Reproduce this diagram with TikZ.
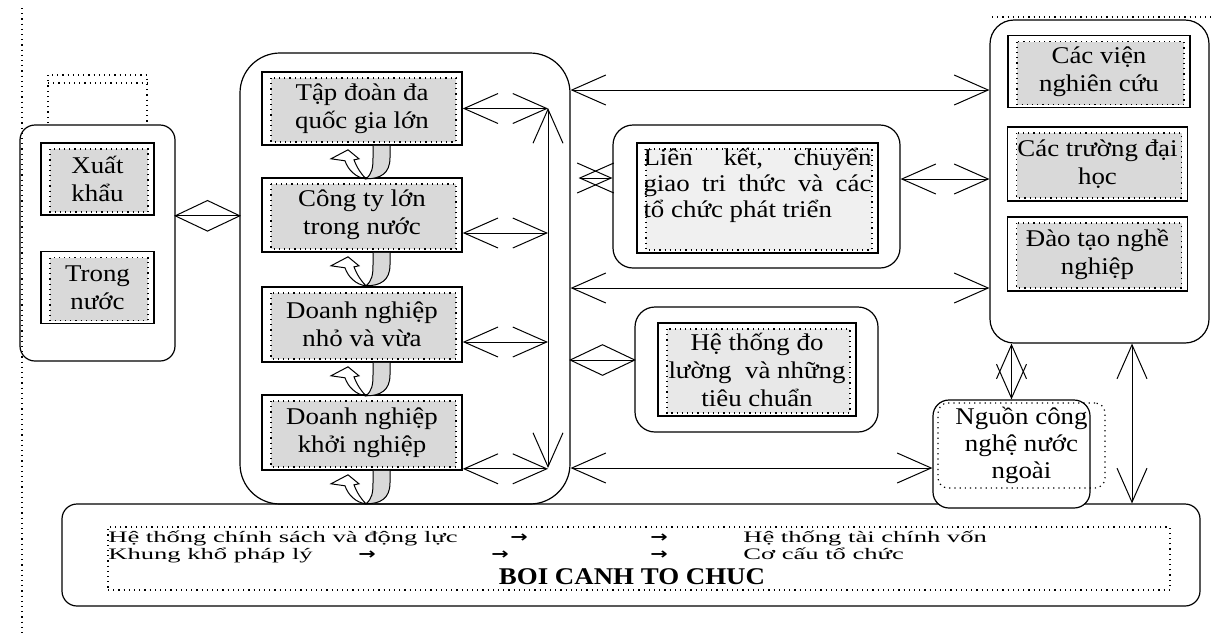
\documentclass[tikz,border=0pt]{standalone}
\usepackage{fontspec}
\setmainfont{Liberation Serif}[FakeStretch=1.12]
\newfontfamily\flatfont{Liberation Serif}[FakeStretch=1.66]
\newfontfamily\arrowfont{DejaVu Sans}[FakeStretch=1.3]
\usetikzlibrary{arrows.meta,shapes.geometric}

\definecolor{boxgray}{gray}{0.85}
\definecolor{palegray}{gray}{0.94}
\definecolor{softgray}{gray}{0.91}

\tikzset{
  orgbox/.style={draw, line width=0.8pt, fill=white, inner sep=0pt, align=center,
    font=\fontsize{12}{14}\selectfont,
    path picture={\draw[dotted, line width=0.6pt, fill=#1]
      ([shift={(4.5pt,-3pt)}]path picture bounding box.north west) rectangle
      ([shift={(-3pt,1.5pt)}]path picture bounding box.south east);}},
  orgbox/.default=boxgray,
  roundframe/.style={draw, line width=0.6pt, rounded corners=#1},
  twoway/.style={line width=0.5pt,
    {Straight Barb[length=17pt,width=15pt]}-{Straight Barb[length=17pt,width=15pt]}},
  diamondmark/.style={draw, diamond, line width=0.5pt, inner sep=0pt,
    minimum width=32.5pt, minimum height=15.5pt},
  bottomtext/.style={inner sep=0pt, font=\flatfont\fontsize{8}{8}\selectfont},
  arrowtext/.style={inner sep=0pt, font=\arrowfont\bfseries\fontsize{8}{8}\selectfont},
  uturn/.pic={
    \filldraw[fill=boxgray, line width=0.5pt] (11,0) -- (11,12) .. controls (11,22) and (10,28) .. (4,33)
      .. controls (18,33) and (28,28) .. (28,12) -- (28,0);
    \draw[line width=0.5pt] (4,33) .. controls (-6,32) and (-14,24) .. (-17,15) -- (-31,13) -- (-14,4)
      -- (-3,13) -- (-8,14) .. controls (-5,22) and (-1,28) .. (4,33);
  }
}

\begin{document}
\begin{tikzpicture}[x=0.5pt, y=-0.5pt]
\useasboundingbox (0,0) rectangle (1211,634);

% page guides
\draw[dotted, line width=0.6pt] (22,8) -- (22,634);
\draw[dotted, line width=0.6pt] (992,17) -- (1211,17);

% markets
\draw[dotted, line width=0.6pt] (48,123) -- (48,75) -- (147,75) -- (147,123) (48,83) -- (147,83);
\node[roundframe=7.5pt, minimum width=77.5pt, minimum height=118pt] (lbox) at (97.5,243) {};
\node[orgbox, minimum width=56.5pt, minimum height=36pt] (xk) at (97.5,179) {Xuất\\khẩu};
\node[orgbox, minimum width=56.5pt, minimum height=36pt] (tn) at (97.5,287.5) {Trong\\nước};

% enterprises
\node[roundframe=20pt, minimum width=165pt, minimum height=225.5pt] (mbox) at (405,278.5) {};
\node[orgbox, minimum width=100pt, minimum height=36.5pt] (tdg) at (362,108.5) {Tập đoàn đa\\quốc gia lớn};
\node[orgbox, minimum width=100pt, minimum height=37pt] (ctl) at (362,215) {Công ty lớn\\trong nước};
\node[orgbox, minimum width=100pt, minimum height=37.5pt] (dnv) at (362,324.5) {Doanh nghiệp\\nhỏ và vừa};
\node[orgbox, minimum width=100pt, minimum height=37.5pt] (dnk) at (362,432.5) {Doanh nghiệp\\khởi nghiệp};
\coordinate (bustop) at (548,108);
\coordinate (busbot) at (548,468);

% research side
\node[roundframe=12pt, minimum width=109.5pt, minimum height=161.5pt] (rbox) at (1099.5,181.5) {};
\node[orgbox, minimum width=91pt, minimum height=36pt] (cvn) at (1099,71.5) {Các viện\\nghiên cứu};
\node[orgbox, minimum width=90pt, minimum height=37pt] (ctd) at (1097.5,164) {Các trường đại\\học};
\node[orgbox, minimum width=90pt, minimum height=37pt] (dtn) at (1097.5,254) {Đào tạo nghề\\nghiệp};

% bridges
\node[roundframe=10pt, minimum width=143.5pt, minimum height=71.5pt] (lk) at (756.5,196.5) {};
\node[orgbox=palegray, minimum width=120.5pt, minimum height=55pt] (lktext) at (757.5,198)
  {\parbox[c][50pt][t]{114pt}{\fontsize{12}{13}\selectfont
   Liên\hfill kết,\hfill chuyển\\ giao\hfill tri\hfill thức\hfill và\hfill các\\ tổ chức phát triển}};
\node[roundframe=10pt, minimum width=121.5pt, minimum height=62.5pt] (hdl) at (756.5,369.5) {};
\node[orgbox=softgray, minimum width=99pt, minimum height=46.5pt] (hdltext) at (757,369.5)
  {Hệ thống đo\\lường\ \ và những\\tiêu chuẩn};

% context
\node[roundframe=7.5pt, minimum width=569pt, minimum height=51pt] (bbox) at (631,555) {};
\node[draw, dotted, line width=0.6pt, inner sep=0pt, minimum width=531pt, minimum height=31.5pt] (ctx) at (639,558.5) {};
\node[bottomtext, anchor=base west] (csdl) at (108,542) {Hệ thống chính sách và động lực};
\node[arrowtext, anchor=base] (a1) at (519,542) {→};
\node[arrowtext, anchor=base] (a2) at (659,542) {→};
\node[bottomtext, anchor=base west] (tcv) at (743,542) {Hệ thống tài chính vốn};
\node[bottomtext, anchor=base west] (kkpl) at (108,559) {Khung khổ pháp lý};
\node[arrowtext, anchor=base] (a3) at (367,559) {→};
\node[arrowtext, anchor=base] (a4) at (500,559) {→};
\node[arrowtext, anchor=base] (a5) at (659,559) {→};
\node[bottomtext, anchor=base west] (cctc) at (743,559) {Cơ cấu tổ chức};
\node[anchor=base, inner sep=0pt, font=\fontsize{12}{12}\selectfont\bfseries] (bctc) at (632,584) {BOI CANH TO CHUC};

% foreign technology
\node[roundframe=8pt, fill=white, minimum width=78.5pt, minimum height=54pt] (ngn) at (1011.5,454) {};
\node[draw, dotted, rounded corners=5pt, line width=0.6pt, inner sep=0pt, align=center,
      minimum width=83.5pt, minimum height=42.5pt, font=\fontsize{12}{13.5}\selectfont] (ngntext) at (1021.5,445.5)
  {Nguồn công\\nghệ nước\\ngoài};

% links
\draw[line width=0.5pt] (lbox.east |- xk.south) -- (mbox.west |- xk.south) node[diamondmark, midway] {};
\draw[twoway] (tdg.east) -- (tdg.east -| bustop);
\draw[twoway] ([yshift=-9pt]ctl.east) -- ([yshift=-9pt]ctl.east -| bustop);
\draw[twoway] ([yshift=-8.75pt]dnv.east) -- ([yshift=-8.75pt]dnv.east -| bustop);
\draw[twoway] ([yshift=1pt]dnk.south east) -- ([yshift=1pt]dnk.south east -| bustop);
\draw[twoway] (bustop) -- (busbot);
\foreach \b in {tdg,ctl,dnv,dnk}
  \pic at (\b.south) {uturn};

\draw[twoway] (mbox.east |- 0,90) -- (rbox.west |- 0,90);
\draw[twoway] ([xshift=4pt]mbox.east |- 0,178) -- (lk.west |- 0,178);
\draw[twoway] (lk.east |- 0,179) -- (rbox.west |- 0,179);
\draw[twoway] (mbox.east |- 0,288) -- (rbox.west |- 0,288);
\draw[line width=0.5pt] (mbox.east |- 0,360) -- (hdl.west |- 0,360) node[diamondmark, midway] {};
\draw[twoway] (mbox.east |- 0,468) -- (ngn.west |- 0,468);
\draw[twoway] (ngn.north |- rbox.south) -- (ngn.north);
\draw[twoway] (rbox.south -| 1132,0) -- (bbox.north -| 1132,0);
\end{tikzpicture}
\end{document}
